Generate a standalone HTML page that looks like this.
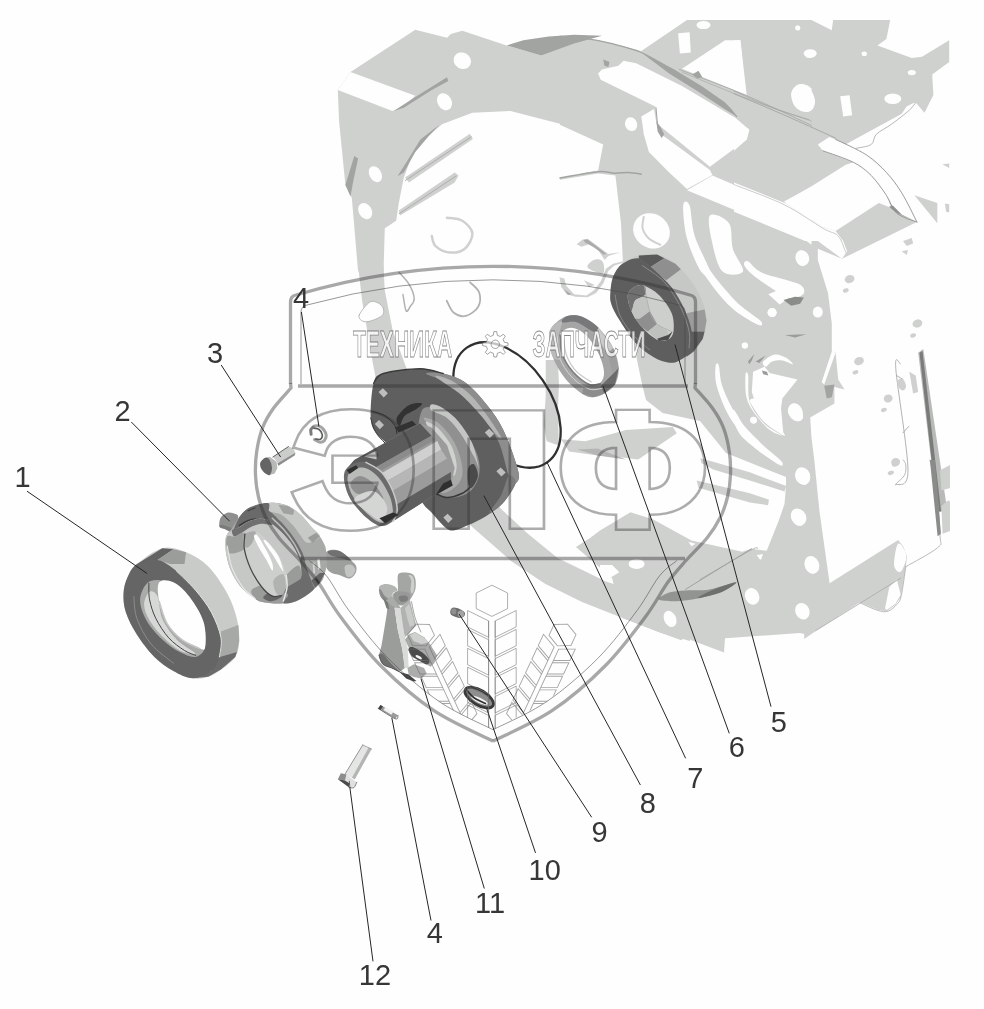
<!DOCTYPE html>
<html lang="ru"><head><meta charset="utf-8"><title>Схема</title>
<style>html,body{margin:0;padding:0;background:#fdfefd}svg{display:block;will-change:transform}text{font-family:"Liberation Sans",sans-serif}</style>
</head><body>
<svg width="984" height="1009" viewBox="0 0 984 1009">
<polygon points="415.3,29.7 350.5,72.1 337.8,89.9 339.1,121.6 345.4,185.1 351.8,197.8 358.1,271.5 383.5,271.5 384.8,228.3 396.2,220.7 398.8,202.9 403.8,177.5 411.5,157.2 421.6,142 442,124.2 472.4,112.7 510.5,111 571.5,126.7 571.5,35.2 541,55.6 506.7,45.4 462.3,30.7 450.8,34 447,37.8" fill="#cfd1cf"/>
<polygon points="560,35.8 585.4,38.3 610.8,42.9 641.3,51 687,20 811.5,20 811.5,271.5 560,271.5" fill="#cfd1cf"/>
<polygon points="734,20 811.5,20 831.8,30.2 833.1,20 890.2,20 886.4,39.1 877.5,45.4 911.8,58.1 922,56.8 949.2,40.3 949.2,61.9 932.2,74.6 933.4,94.9 924.5,112.7 915.7,102.6 906.8,106.4 901.7,114 845.8,144.5 866.1,154.7 886.4,172.4 901.7,192.8 911.8,210.5 916.9,222 842,258.8 817.8,248.7 817.8,271.5 734,271.5" fill="#cfd1cf"/>
<polygon points="914.4,195.3 937.3,202.9 937.3,223.3" fill="#cfd1cf"/>
<polygon points="942.3,164.3 949.2,163.5 949.2,167.9" fill="#cfd1cf"/>
<polygon points="944.9,203.4 949.2,204.2 949.2,212.6 946.1,211.8" fill="#cfd1cf"/>
<polygon points="903,241 911.8,238 913.1,243.6 906.8,246.1" fill="#cfd1cf"/>
<polygon points="901.7,251.2 908,249.9 906.8,255" fill="#cfd1cf"/>
<polygon points="358,265 362,300 372.5,361.6 380,400 405,450 440,495 472,526.7 511,561 545,583.7 582,602 622.6,618 660,632.4 690,641 700,610 650,596 606,581.6 557.6,558 527,533 500.6,508.5 460,460 425,405 407,369.8 392.8,331 384.7,290 383.5,265" fill="#cfd1cf"/>
<polygon points="623,262 628,300 637,360 642,384 646,400 662.6,413 700,421 726,453 786,477 786,486 784.5,504 778.9,520.3 766.7,550.8 751.4,548.8 742.3,551.8 691.5,540.6 652.8,519.3 630.5,512.2 600,530.5 590,538 575.9,547 612,578 622.6,618 660,632.4 681.3,640.2 686.4,635.8 691.5,640.2 724,652.4 725,638.2 800,633.1 804.2,634 804.2,639.1 816.9,630.2 860,602.3 877.8,609.9 886.7,611.2 895.6,604.8 900.7,597.2 905.8,566.7 907,556.5 903.3,546.4 898.2,540 829.6,583.2 819.4,510.8 814.3,460 811.5,437.8 810.2,417.5 834.4,403.5 834.4,387 844.5,389.6 838.2,379.4 835.6,352.7 831.8,351.5 831.8,323.5 828,293 817.8,260" fill="#cfd1cf"/>
<polygon points="350.5,72.1 337.8,89.9 392.4,111 403.8,106.4 415.3,95.7" fill="#fdfefd"/>
<ellipse cx="462.3" cy="60.7" rx="9" ry="8" fill="#fdfefd" transform="rotate(30 462.3 60.7)"/>
<ellipse cx="444.5" cy="101.8" rx="7" ry="9" fill="#fdfefd" transform="rotate(-30 444.5 101.8)"/>
<ellipse cx="375.4" cy="174.2" rx="6" ry="8.5" fill="#fdfefd" transform="rotate(-30 375.4 174.2)"/>
<ellipse cx="365.2" cy="211.1" rx="6.5" ry="8.5" fill="#fdfefd" transform="rotate(-30 365.2 211.1)"/>
<polygon points="598.1,73.4 601.9,69.5 618.4,65.7 623.5,60.7 636.2,63.2 682,86.1 735.3,117.8 749.3,129.8 746.7,139.4 709.9,166.8 657.8,124.2 655.3,106.4 600.7,79.7" fill="#fdfefd"/>
<polygon points="641.3,116.5 654,108.9 657.8,131.8 709.9,169.9 712.4,175 687,189 669.2,172.4 648.9,152.1 643.8,134.3" fill="#fdfefd"/>
<polygon points="712.4,175.5 811.5,217.7 811.5,244.8 803.9,239 687,190.2" fill="#fdfefd"/>
<polygon points="682,68.8 725.1,40.3 740.4,40.3 746.7,94.9" fill="#fdfefd"/>
<polygon points="558.7,124.2 603.2,144.5 598.1,170.4 558.7,178" fill="#fdfefd"/>
<polygon points="558.7,180.1 598.1,173.5 615.4,175.5 621,223.3 623.5,274.1 558.7,274.1" fill="#fdfefd"/>
<ellipse cx="631.1" cy="124.2" rx="6" ry="7" fill="#fdfefd" transform="rotate(-20 631.1 124.2)"/>
<polygon points="678.1,33.2 689.6,32.2 690.8,52.5 679.9,53.5" fill="#fdfefd"/>
<ellipse cx="703.5" cy="25.1" rx="7" ry="4" fill="#fdfefd"/>
<polygon points="791.2,93.7 798.8,84.8 807.7,85.5 811.5,88.6 811.5,108.9 801.4,111 793.7,103.8" fill="#fdfefd"/>
<polygon points="805.2,51.8 811.5,50 811.5,58.1 806.4,57.6" fill="#fdfefd"/>
<ellipse cx="797.8" cy="28.1" rx="2.5" ry="2.5" fill="#fdfefd"/>
<ellipse cx="651.5" cy="230.9" rx="19" ry="17" fill="#fdfefd" transform="rotate(35 651.5 230.9)"/>
<path d="M683.2 205.5C683.6 200 687.7 200.4 689.6 205.5C691.5 210.6 691.3 225 694.7 236C698.1 247 708.9 265.6 709.9 271.5C710.9 277.4 704.8 277 701 271.5C697.2 266 690 249.5 687 238.5C684 227.5 682.8 211 683.2 205.5Z" fill="#fdfefd"/>
<path d="M709.9 215.6C712.7 212.2 725.2 217.8 729 223.3C732.8 228.8 730.5 240.7 732.8 248.7C735.1 256.7 744.6 267.7 742.9 271.5C741.2 275.3 727.7 276.1 722.6 271.5C717.5 266.9 714.5 252.9 712.4 243.6C710.3 234.3 707.1 219 709.9 215.6Z" fill="#fdfefd"/>
<polygon points="811.5,186.4 783.6,201.7 811.5,213.1" fill="#fdfefd"/>
<ellipse cx="802.6" cy="258.1" rx="6.5" ry="7.5" fill="#fdfefd" transform="rotate(-20 802.6 258.1)"/>
<polygon points="734,40.3 740.4,40.3 745.4,93.7 734,89.9" fill="#fdfefd"/>
<polygon points="734,121.6 749.2,129.2 746.7,139.4 734,150.8" fill="#fdfefd"/>
<polygon points="817.8,144.5 829.3,136.9 835.6,139.4 845.8,144.5 866.1,154.7 886.4,172.4 901.7,192.8 911.8,210.5 916.9,222 896.6,213.1 886.4,195.3 871.2,175 853.4,162.3 822.9,150.8" fill="#fdfefd"/>
<polygon points="784.8,202.9 845.8,164.8 853.4,162.3 871.2,175 886.4,195.3 891.5,208 878.8,202.9 835.6,230.9 822.9,227.1" fill="#fdfefd"/>
<polygon points="734,182.6 784.8,202.9 822.9,227.1 835.6,230.9 843.2,241 847.1,251.2 842,258.8 817.8,241 805.1,241 734,211.8" fill="#fdfefd"/>
<polygon points="845.8,144.5 901.7,114 906.8,106.4 911.8,103.8 915.7,102.6 909.3,110.2 876.3,134.3 871.2,144.5 856,148.3" fill="#fdfefd"/>
<ellipse cx="810.2" cy="53.5" rx="6.5" ry="4.2" fill="#fdfefd"/>
<ellipse cx="864.3" cy="53.8" rx="2.7" ry="2.3" fill="#fdfefd"/>
<ellipse cx="911.8" cy="72.6" rx="4" ry="2.7" fill="#fdfefd"/>
<ellipse cx="892.8" cy="98.8" rx="8.5" ry="5.2" fill="#fdfefd"/>
<path d="M791.2 93.7C791.6 90.1 794.8 86.1 797.5 84.8C800.2 83.5 804.8 83.8 807.7 86.1C810.6 88.4 813.9 95 814.8 98.8C815.6 102.6 814.4 106.7 812.8 108.9C811.2 111.1 808.1 112.4 805.1 112C802.1 111.6 797.3 109.5 795 106.4C792.7 103.4 790.8 97.3 791.2 93.7Z" fill="#fdfefd"/>
<polygon points="840.2,96.2 849.6,95.2 852.1,115.3 843.2,116.5" fill="#fdfefd"/>
<ellipse cx="797.5" cy="27.6" rx="2.2" ry="2.2" fill="#fdfefd"/>
<ellipse cx="802.1" cy="258.1" rx="6.5" ry="8" fill="#fdfefd" transform="rotate(-15 802.1 258.1)"/>
<path d="M702.3 260C705.7 263 711.6 273.1 717.5 280.3C723.4 287.5 730.6 296.4 737.8 303.2C745 310 757.5 317.5 760.7 321C763.9 324.5 761.5 326 756.9 324C752.2 322 740.2 315.2 732.8 308.8C725.4 302.4 718.3 293.6 712.4 285.9C706.5 278.2 698.9 266.8 697.2 262.5C695.5 258.2 698.9 257 702.3 260Z" fill="#fdfefd"/>
<path d="M748 261.3C751 262.6 753.5 268.9 762 272.7C770.5 276.5 791.9 280.5 798.8 284.1C805.6 287.7 804.8 292 803.1 294.3C801.4 296.6 793 298.5 788.7 298.1C784.4 297.7 783.1 295.6 777.2 291.8C771.3 288 758.6 279.6 753.1 275.2C747.6 270.8 745.1 267.4 744.2 265.1C743.4 262.8 745 260 748 261.3Z" fill="#fdfefd"/>
<path d="M718.8 365.4C720 368.8 719.4 378.3 722.6 387C725.8 395.7 731.4 408.2 737.8 417.5C744.1 426.8 753.5 435.7 760.7 442.9C767.9 450.1 778 457.2 781 460.7C784 464.2 783.1 466.2 778.5 463.8C773.9 461.4 761.1 453.6 753.1 446C745.1 438.4 736.2 427.8 730.2 418C724.2 408.2 719.5 395.6 717 387C714.5 378.4 715.2 370.3 715.5 366.7C715.8 363.1 717.6 362 718.8 365.4Z" fill="#fdfefd"/>
<ellipse cx="772.1" cy="312.6" rx="4.5" ry="4.5" fill="#fdfefd"/>
<ellipse cx="745" cy="345.6" rx="3" ry="3" fill="#fdfefd"/>
<ellipse cx="753.6" cy="420.6" rx="3" ry="3" fill="#fdfefd"/>
<polygon points="831.8,351.5 835.6,352.7 824.2,384.5 821.7,382" fill="#fdfefd"/>
<polygon points="768.3,294.3 777.2,290.5 788.6,298.1 779.7,304.5" fill="#fdfefd"/>
<path d="M734 301.9C738.2 303.8 755.4 317.2 759.4 321C763.4 324.8 762.3 326.7 758.1 324.8C753.9 322.9 738 313.3 734 309.5C730 305.7 729.8 300 734 301.9Z" fill="#fdfefd"/>
<ellipse cx="772.1" cy="312.6" rx="4.5" ry="4.5" fill="#fdfefd"/>
<ellipse cx="817.8" cy="312.1" rx="5" ry="5.5" fill="#fdfefd"/>
<ellipse cx="744.7" cy="345.6" rx="3" ry="3" fill="#fdfefd"/>
<ellipse cx="753.8" cy="420.6" rx="3" ry="3" fill="#fdfefd"/>
<polygon points="753.1,371.8 764.5,366.7 769.6,373.1 797.5,379.4 782.3,398.5 781,408.6 783.5,435.3 759.4,415 751.8,392.1" fill="#fdfefd"/>
<path d="M763.2 361.6C764.7 359.6 770.9 355.1 774.7 354.5C778.5 353.9 783.1 356.2 786.1 357.8C789.1 359.4 793.5 363.8 792.9 364.2C792.3 364.6 785.8 360.8 782.3 360.4C778.8 360 774.9 360.6 772.1 361.6C769.4 362.7 767.3 366.7 765.8 366.7C764.3 366.7 761.7 363.6 763.2 361.6Z" fill="#fdfefd"/>
<path d="M745.4 375.6C745.4 380.1 744.4 393.6 748 402.3C751.6 411 761.3 422.2 767 427.7C772.7 433.2 782.7 435.9 782.3 435.3C781.9 434.7 769.9 429.4 764.5 423.9C759.1 418.4 752.5 410.4 749.8 402.3C747.1 394.2 748.9 380.1 748.2 375.6C747.5 371.2 745.4 371.2 745.4 375.6Z" fill="#fdfefd"/>
<path d="M734 409.9C736.5 411.8 741.6 424.3 749.2 432.8C756.8 441.3 775 455.5 779.7 460.7C784.4 465.9 783.1 467.4 777.2 463.8C771.3 460.2 751.4 446.2 744.2 439.1C737 432 735.7 426.2 734 421.3C732.3 416.4 731.5 408 734 409.9Z" fill="#fdfefd"/>
<path d="M787.9 409.9C788.2 407.3 791.6 403.7 793.7 403.5C795.8 403.3 799 406.3 800.6 408.6C802.2 410.9 803.4 415.4 803.1 417.5C802.8 419.6 800.7 421.1 798.8 421.3C796.9 421.5 793.7 420.7 791.9 418.8C790.1 416.9 787.6 412.4 787.9 409.9Z" fill="#fdfefd"/>
<ellipse cx="802.6" cy="476" rx="7.5" ry="8" fill="#fdfefd" transform="rotate(-20 802.6 476)"/>
<path d="M749.8 400C750.4 398.7 754.4 397.2 757.1 400C759.8 402.8 761.9 411.2 766.2 416.5C770.5 421.8 780 428.9 782.7 432C785.5 435.1 785.8 436.7 782.7 435.1C779.7 433.5 769.3 426.9 764.4 422.3C759.5 417.7 755.8 411.4 753.4 407.7C751 404 749.2 401.3 749.8 400Z" fill="#fdfefd"/>
<ellipse cx="753.4" cy="420.1" rx="3.3" ry="3.3" fill="#fdfefd"/>
<ellipse cx="795.5" cy="411.9" rx="7" ry="9" fill="#fdfefd" transform="rotate(-25 795.5 411.9)"/>
<ellipse cx="802.8" cy="475.9" rx="7" ry="9" fill="#fdfefd" transform="rotate(-25 802.8 475.9)"/>
<ellipse cx="798.2" cy="517.1" rx="7" ry="9" fill="#fdfefd" transform="rotate(-25 798.2 517.1)"/>
<ellipse cx="812" cy="564.6" rx="7" ry="9" fill="#fdfefd" transform="rotate(-25 812 564.6)"/>
<polygon points="757.1,555.5 762.6,554.6 760.7,559.5" fill="#fdfefd"/>
<ellipse cx="802.9" cy="476.5" rx="7" ry="8.5" fill="#fdfefd" transform="rotate(-25 802.9 476.5)"/>
<ellipse cx="799.1" cy="517.2" rx="7" ry="8.5" fill="#fdfefd" transform="rotate(-25 799.1 517.2)"/>
<ellipse cx="811.8" cy="565.4" rx="7" ry="8.5" fill="#fdfefd" transform="rotate(-25 811.8 565.4)"/>
<ellipse cx="752.1" cy="596.4" rx="7" ry="8.5" fill="#fdfefd" transform="rotate(-25 752.1 596.4)"/>
<ellipse cx="802.4" cy="611.2" rx="7" ry="8.5" fill="#fdfefd" transform="rotate(-25 802.4 611.2)"/>
<polygon points="757.9,555.3 763,554.5 759.7,559.6" fill="#fdfefd"/>
<path d="M898.2 543.8C899.6 542.8 901.9 545.4 903.3 547.7C904.6 550 906.7 553.8 906.3 557.8C905.9 561.8 902.7 570.3 900.7 571.8C898.7 573.3 895.3 569.7 894.4 566.7C893.5 563.7 894.5 557.8 895.1 554C895.7 550.2 896.8 544.8 898.2 543.8Z" fill="#fdfefd"/>
<polygon points="889.3,587 896.9,579.4 900.7,594.7 895.6,603.5 886.7,609.9 885,608.6" fill="#fdfefd"/>
<ellipse cx="636.6" cy="564" rx="8" ry="5" fill="#fdfefd"/>
<ellipse cx="670.1" cy="618.9" rx="6" ry="8.5" fill="#fdfefd" transform="rotate(-25 670.1 618.9)"/>
<ellipse cx="752.4" cy="596.5" rx="6" ry="8" fill="#fdfefd" transform="rotate(-25 752.4 596.5)"/>
<polygon points="600,565 612.2,565 619.3,572.2 606.1,580.3 600,575.2" fill="#fdfefd"/>
<polygon points="756.5,554.9 762.6,554.5 761,560" fill="#fdfefd"/>
<polygon points="688.4,541.7 695.5,543.7 691.5,546.3" fill="#fdfefd"/>
<path d="M359.3 314.9C360.7 311.7 366.8 303.2 370.5 301.7C374.2 300.2 379.7 303.5 381.7 305.7C383.7 307.9 384.6 312.3 382.7 314.9C380.8 317.4 373.9 320 370.5 321C367.1 322 364.3 322 362.4 321C360.5 320 357.9 318.1 359.3 314.9Z" fill="#fdfefd"/>
<polygon points="506.7,45.4 523.3,40.3 548.7,36.5 574.1,34.7 602,35.8 574.1,43.4 541,55.6" fill="#a2a4a2"/>
<polygon points="354.3,155.9 358.1,158.5 353,182.6 350.5,196.6 345.4,185.1" fill="#a2a4a2"/>
<polygon points="416.5,96.2 447,77.2 448.3,81 431.8,89.9 403.8,107.7 393.7,111" fill="#a2a4a2"/>
<polygon points="439.4,124.7 420.4,139.4 406.4,162.3 397.5,176.2 403.8,172.4 415.3,152.1 429.2,135.6" fill="#a2a4a2"/>
<polygon points="405.1,177.5 469.9,133.8 472.9,138.9 408.9,182.6" fill="#cfd1cf"/>
<polygon points="398.8,210.5 454.7,172.4 458.5,175.5 454.7,182.6 400,215.6" fill="#cfd1cf"/>
<path d="M405.1 180.6 L471.2 136.9" fill="none" stroke="#a2a4a2" stroke-width="0.8" stroke-linecap="round"/>
<path d="M399.3 213.6 L455.9 176.2" fill="none" stroke="#a2a4a2" stroke-width="0.8" stroke-linecap="round"/>
<path d="M447 217.7C449.6 218.2 458.1 218.1 462.3 220.7C466.5 223.3 472 228.7 472.4 233.4C472.8 238.1 468.6 245.5 464.8 248.7C461 251.9 454.5 252.9 449.6 252.5C444.7 252.1 438.6 248.8 435.6 246.1C432.6 243.3 432.4 237.7 431.8 236" fill="none" stroke="#cfd1cf" stroke-width="2.5" stroke-linecap="round"/>
<path d="M560 36.3C564.2 36.6 576.9 37.1 585.4 38.3C593.9 39.5 601.5 41 610.8 43.4C620.1 45.8 630.7 47.9 641.3 52.5C651.9 57.1 664.1 64.8 674.3 70.8C684.5 76.8 693.8 83.1 702.3 88.6C710.8 94.1 719.4 99.1 725.1 103.8C730.8 108.5 734.7 114.4 736.6 116.5" fill="none" stroke="#a2a4a2" stroke-width="1.2" stroke-linecap="round"/>
<polygon points="641.3,52.5 674.3,69.5 702.3,86.6 725.1,102.6 736.6,116.5 722.6,107.7 697.2,91.1 669.2,73.4" fill="#a2a4a2"/>
<path d="M643.8 216.9C643.6 218.8 641.8 224.7 642.6 228.3C643.5 231.9 645.9 235.8 648.9 238.5C651.9 241.2 658.5 243.8 660.4 244.8" fill="none" stroke="#cfd1cf" stroke-width="2" stroke-linecap="round"/>
<polygon points="603.2,59.4 609.5,61.9 608.3,67 604.5,65.7" fill="#a2a4a2"/>
<polygon points="692.1,74.6 698.5,70.8 702.3,77.2 697.2,78.4" fill="#a2a4a2"/>
<polygon points="656.5,121.6 660.4,126.7 664.2,134.3 661.6,138.1 657.8,131.8" fill="#a2a4a2"/>
<path d="M560 178C566.4 176.9 589 172.5 598.1 171.7C607.2 170.9 609.5 173.1 614.6 173.2C619.7 173.3 624.2 172.2 628.6 172.4C633 172.6 639.2 173.9 641.3 174.2" fill="none" stroke="#a2a4a2" stroke-width="1.5" stroke-linecap="round"/>
<path d="M679.4 69.5C690.6 73.9 724.7 86.4 746.7 95.7C768.7 105 800.7 120.5 811.5 125.4" fill="none" stroke="#a2a4a2" stroke-width="0.8" stroke-linecap="round"/>
<path d="M682 72.1C692.8 76.5 725.1 90.1 746.7 98.3C768.3 106.5 800.7 117.3 811.5 121.1" fill="none" stroke="#a2a4a2" stroke-width="0.6" stroke-linecap="round"/>
<path d="M656 107.7 L657.8 128" fill="none" stroke="#a2a4a2" stroke-width="1" stroke-linecap="round"/>
<path d="M734 93.7C742.5 97.3 767.9 107.9 784.8 115.3C801.7 122.7 827.1 134.3 835.6 138.1" fill="none" stroke="#a2a4a2" stroke-width="0.9" stroke-linecap="round"/>
<path d="M734 91.1C740.4 93.9 759.6 103 772.1 107.7C784.6 112.5 802.8 117.6 808.9 119.6" fill="none" stroke="#a2a4a2" stroke-width="0.7" stroke-linecap="round"/>
<path d="M822.9 150.8C828 152.7 845.3 158.2 853.4 162.3C861.5 166.4 865.7 170 871.2 175.5C876.7 181 882.2 189 886.4 195.3C890.6 201.6 891.5 208.7 896.6 213.1C901.7 217.5 913.5 220.5 916.9 222" fill="none" stroke="#888" stroke-width="0.8" stroke-linecap="round"/>
<path d="M835.6 139.4C840.7 141.9 857.6 149.2 866.1 154.7C874.6 160.2 880.5 166.1 886.4 172.4C892.3 178.8 896.6 184.5 901.7 192.8C906.8 201.1 914.4 217.1 916.9 222" fill="none" stroke="#888" stroke-width="0.8" stroke-linecap="round"/>
<path d="M915.7 102.6C914.6 103.9 913.3 106.6 909.3 110.2C905.3 113.8 897 120.2 891.5 124.2C886 128.2 879.7 130.9 876.3 134.3C872.9 137.7 874.6 142.2 871.2 144.5C867.8 146.8 858.5 147.7 856 148.3" fill="none" stroke="#999" stroke-width="0.7" stroke-linecap="round"/>
<polygon points="889,206.7 896.6,213.1 916.9,222 901.7,214.4 892.8,205.5" fill="#909290"/>
<path d="M734 184.6C742.5 188 770 197.7 784.8 205C799.6 212.3 814 223.1 822.9 228.3C831.8 233.5 834.4 232 838.2 236C842 240 844.5 249.8 845.8 252.5" fill="none" stroke="#aaa" stroke-width="0.6" stroke-linecap="round"/>
<polygon points="824.2,385.8 834.4,384.5 831.8,397.2 826.7,398.5" fill="#a2a4a2"/>
<polygon points="783.5,300.1 795,296.8 803.9,297.6 800.1,303.7 791.2,305.7" fill="#8a8c8a"/>
<polygon points="784.8,334.9 806.4,334.2 795,337.5" fill="#9a9c9a"/>
<polygon points="748,361.6 754.3,354 751.8,360.4 749.2,364.2" fill="#9a9c9a"/>
<polygon points="755.6,361.6 765.8,355.3 759.4,362.9" fill="#9a9c9a"/>
<polygon points="761.9,370.5 767,371.8 768.3,375.6 763.2,374.3" fill="#9a9c9a"/>
<polygon points="918.2,352.7 923.3,348.9 947.4,511.5 937.3,511.5" fill="#b8bab8"/>
<polygon points="919.5,352.7 922.5,351 941.1,511.5 937.3,511.5" fill="#7a7c7a"/>
<path d="M900.4 364.2C899.6 364.9 894.5 350.9 895.8 368.7C897.1 386.5 908.1 451.5 908 470.9C907.9 490.2 897.4 482.5 895.3 484.8" fill="none" stroke="#a8aaa8" stroke-width="0.9" stroke-linecap="round"/>
<path d="M896.6 375.6 L903 379.4" fill="none" stroke="#a8aaa8" stroke-width="0.9" stroke-linecap="round"/>
<path d="M903 432.8 L908.8 426.4" fill="none" stroke="#a8aaa8" stroke-width="0.9" stroke-linecap="round"/>
<ellipse cx="849.6" cy="279.1" rx="5" ry="4" fill="#cfd1cf" transform="rotate(-20 849.6 279.1)"/>
<ellipse cx="845.8" cy="290.5" rx="3" ry="2" fill="#cfd1cf" transform="rotate(-20 845.8 290.5)"/>
<ellipse cx="917.4" cy="323.5" rx="5" ry="4" fill="#cfd1cf" transform="rotate(-20 917.4 323.5)"/>
<ellipse cx="913.1" cy="335.5" rx="3" ry="2" fill="#cfd1cf" transform="rotate(-20 913.1 335.5)"/>
<ellipse cx="859" cy="361.1" rx="5" ry="4" fill="#cfd1cf" transform="rotate(-20 859 361.1)"/>
<ellipse cx="855.4" cy="372.3" rx="3" ry="2" fill="#cfd1cf" transform="rotate(-20 855.4 372.3)"/>
<ellipse cx="888.2" cy="398.5" rx="4.5" ry="4" fill="#cfd1cf" transform="rotate(-20 888.2 398.5)"/>
<ellipse cx="883.9" cy="409.9" rx="3" ry="2" fill="#cfd1cf" transform="rotate(-20 883.9 409.9)"/>
<ellipse cx="895.6" cy="462" rx="4.5" ry="4" fill="#cfd1cf" transform="rotate(-20 895.6 462)"/>
<ellipse cx="891" cy="472.9" rx="3" ry="2" fill="#cfd1cf" transform="rotate(-20 891 472.9)"/>
<ellipse cx="901.7" cy="384.5" rx="4" ry="6" fill="#cfd1cf" transform="rotate(-20 901.7 384.5)"/>
<polygon points="909.3,371.8 915.7,375.6 918.2,392.1 913.1,393.4" fill="#cfd1cf"/>
<polygon points="941.1,481 948.7,476 948.7,486.1 943.6,487.4" fill="#cfd1cf"/>
<polygon points="943.6,503.9 948.7,500.1 948.7,511.5 944.9,511.5" fill="#cfd1cf"/>
<polygon points="700.4,458.2 709.5,460.7 749.8,472.3 786.3,486 784.5,491.5 749.8,480.5 713.2,469.5 701.3,463.1" fill="#cfd1cf"/>
<polygon points="696.7,480.5 749.8,493.3 769,499.7 768,505.2 749.8,502.4 698.5,487.8" fill="#cfd1cf"/>
<polygon points="561,439.3 585.4,441.3 626,430.1 672.8,427.1 676.8,433.2 638.2,459.6 622,457.6 597.6,455.5 569.1,451.5" fill="#cfd1cf"/>
<polygon points="577.2,449.4 597.6,448.4 626,459.6 597.6,455.5" fill="#b4b6b4"/>
<polygon points="545.7,360 557.9,360 558.9,384.4 557.9,410.8 558.9,445.4 546.7,441.3 543.7,425 545.7,396.6" fill="#cfd1cf"/>
<path d="M860.1 602.8C863 604.1 873.1 609 877.8 610.4C882.4 611.8 884.8 612.2 888 611.2C891.2 610.2 894.7 606.8 896.9 604.3C899.1 601.8 899.7 602.2 901.2 595.9C902.7 589.6 905 571.6 905.8 566.7" fill="none" stroke="#a8aaa8" stroke-width="0.8" stroke-linecap="round"/>
<path d="M905.8 566.7C911.1 563.5 931.9 552.8 937.6 547.7C943.3 542.6 940.3 545.7 940.1 536.2C939.9 526.7 938 503.2 936.3 490.5C934.6 477.8 931 465.1 929.9 460" fill="none" stroke="#a8aaa8" stroke-width="0.8" stroke-linecap="round"/>
<polygon points="929.9,460 935,460 940.9,533.7 937.6,536.2" fill="#8a8c8a"/>
<polygon points="940.1,470.2 950,465.1 950,487.9 941.4,490.5" fill="#cfd1cf"/>
<polygon points="941.4,505.7 950,500.7 950,531.1 942.6,533.7" fill="#cfd1cf"/>
<path d="M895.6 484.1C897.1 482.6 902.8 478.4 904.5 475.2C906.2 472 906 467.6 905.8 465.1C905.6 462.6 903.7 460.9 903.3 460" fill="none" stroke="#a8aaa8" stroke-width="0.8" stroke-linecap="round"/>
<ellipse cx="895.6" cy="463.8" rx="4" ry="2.5" fill="#cfd1cf" transform="rotate(-20 895.6 463.8)"/>
<ellipse cx="890.5" cy="472.7" rx="3" ry="1.5" fill="#cfd1cf" transform="rotate(-20 890.5 472.7)"/>
<path d="M700 579.4C708.5 574.5 741.3 555.3 750.8 550.2C760.3 545.1 756.1 549.1 757.2 548.9" fill="none" stroke="#a8aaa8" stroke-width="0.8" stroke-linecap="round"/>
<path d="M815.6 630.7 L900.7 578.1" fill="none" stroke="#a8aaa8" stroke-width="0.8" stroke-linecap="round"/>
<path d="M658.9 599.6C657.5 598.1 664.7 594 669.1 592.5C673.5 591 678.6 590.9 685.4 590.4C692.2 589.9 701.3 590.8 709.8 589.4C718.3 588 734.2 581.9 736.2 582.3C738.2 582.6 728.4 588.8 722 591.5C715.6 594.2 705.1 597 697.6 598.6C690.1 600.2 683.7 601 677.2 601.2C670.8 601.4 660.2 601.1 658.9 599.6Z" fill="#929492"/>
<path d="M697.6 598C696.2 597.6 707.4 592 713.8 589.4C720.2 586.8 734.8 581.9 736.2 582.3C737.6 582.7 728.4 589.3 722 591.9C715.6 594.5 699 598.4 697.6 598Z" fill="#6e706e"/>
<path d="M685.4 589.4 L751.4 548.8" fill="none" stroke="#9a9c9a" stroke-width="0.9" stroke-linecap="round"/>
<path d="M359.3 314.9C360.7 311.7 366.8 303.2 370.5 301.7C374.2 300.2 379.7 303.5 381.7 305.7C383.7 307.9 384.6 312.3 382.7 314.9C380.8 317.4 373.9 320 370.5 321C367.1 322 364.3 322 362.4 321C360.5 320 357.9 318.1 359.3 314.9Z" fill="none" stroke="#a8aaa8" stroke-width="0.8" stroke-linecap="round"/>
<path d="M398.9 272.2C400.6 274.2 406.6 280 409.1 284.4C411.7 288.8 414 294.9 414.2 298.6C414.4 302.3 411.5 304.7 410.1 306.7C408.8 308.7 407.3 312.8 406.1 310.8C404.9 308.8 403.5 297.3 403 294.6" fill="none" stroke="#b0b2b0" stroke-width="1.5" stroke-linecap="round"/>
<path d="M470.1 282.4C471.6 284.1 477.9 288.4 479.2 292.5C480.5 296.6 480.4 302.8 478.2 306.7C476 310.6 470.1 314.9 466 315.9C461.9 316.9 457 315.3 453.8 312.8C450.6 310.3 447.9 302.7 446.7 300.7" fill="none" stroke="#b0b2b0" stroke-width="1.8" stroke-linecap="round"/>
<polygon points="576.6,244.3 582.7,239.4 587.6,238.8 598.5,246.7 608.3,254 620.5,252.2 608.3,255.9 604.6,260.1 598.5,250.4 588.8,244.3 581.5,246.7" fill="#cfd1cf"/>
<polygon points="583.3,240 587.6,239.4 597.3,246.7 606.5,254 603.4,254.6 593.7,247 585.1,242.4" fill="#a9aba9"/>
<path d="M587.6 267.4C586.2 265.2 591.5 261.3 593.7 260.1C595.9 258.9 599.3 259.1 601 260.1C602.7 261.1 603.8 264 604 266.2C604.2 268.4 604.9 273.3 602.2 273.5C599.5 273.7 589 269.6 587.6 267.4Z" fill="#cfd1cf"/>
<polygon points="559.5,277.2 564.4,278.4 566.2,285.7 574.1,294.3 586.3,295.5 593.7,290.6 601,280.9 605.9,268.7 613.2,263.8 627.8,260.1 625.4,262 614.4,265.6 608.3,271.1 603.4,283.3 596.1,293 587.6,297.3 575.4,296.7 566.8,294.3 561.3,287" fill="#cfd1cf"/>
<polygon points="583.9,280.2 594.9,285.1 588.8,287" fill="#cfd1cf"/>
<polygon points="563.8,289.4 571.7,294.3 568,294.9" fill="#a9aba9"/>
<path d="M123.5 593.4C123.8 587.6 125.2 582.5 127.4 577.6C129.7 572.7 131.2 569 137 564.1C142.8 559.2 154.1 550.2 162.3 548.2C170.5 546.2 178.4 549.2 186.1 552.2C193.8 555.2 201.4 559.6 208.3 566.5C215.2 573.4 222.5 584.7 227.3 593.4C232.1 602.1 234.9 610.9 236.9 618.8C238.9 626.7 239.5 634.6 239.2 641C238.9 647.4 238.3 652.1 235.3 656.9C232.3 661.6 225.5 666.2 221 669.5C216.5 672.8 213.1 675.2 208.3 676.7C203.6 678.2 198.3 679.2 192.5 678.3C186.7 677.4 179.8 674.7 173.4 671.1C167.1 667.5 160.5 663 154.4 656.9C148.3 650.8 141.8 642.1 137 634.7C132.2 627.3 128.2 619.4 125.9 612.5C123.7 605.6 123.2 599.2 123.5 593.4Z" fill="#c9cbc9"/>
<polygon points="137,564.1 162.3,548.2 173.4,549.3 157.6,560.1" fill="#636263"/>
<polygon points="157.6,560.1 173.4,549.3 186.1,552.2 184.5,564.1 170.3,564.1" fill="#9b9d9b"/>
<polygon points="221,631.5 238.4,625.1 239.2,641 236.9,652.1 219.4,656.9" fill="#a7a9a7"/>
<polygon points="219.4,656.9 236.9,652.1 235.3,656.9 221,669.5 208.3,676.7 192.5,678.3 211.5,671.1" fill="#6c6b6c"/>
<path d="M123.5 593.4C123.8 587.6 125.2 582.5 127.4 577.6C129.7 572.7 132 567 137 564.1C142 561.2 151 558.9 157.6 560.1C164.2 561.3 170.3 566.2 176.6 571.2C182.9 576.2 189.8 583.4 195.6 590.3C201.4 597.2 207.3 604.6 211.5 612.5C215.7 620.4 219.7 630.4 221 637.8C222.3 645.2 221 651.3 219.4 656.9C217.8 662.5 216 667.5 211.5 671.1C207 674.7 198.8 678.3 192.5 678.3C186.2 678.3 179.8 674.7 173.4 671.1C167.1 667.5 160.5 663 154.4 656.9C148.3 650.8 141.8 642.1 137 634.7C132.2 627.3 128.2 619.4 125.9 612.5C123.7 605.6 123.2 599.2 123.5 593.4Z" fill="#666566"/>
<path d="M176.6 571.2C179.8 574.4 189.8 583.4 195.6 590.3C201.4 597.2 207.3 604.6 211.5 612.5C215.7 620.4 219.7 630.4 221 637.8C222.3 645.2 219.7 653.7 219.4 656.9" fill="none" stroke="#e4e6e4" stroke-width="1.0" stroke-linecap="round"/>
<path d="M140.1 599.8C140.2 593.6 143.9 586.3 147.3 583.1C150.7 579.9 155.8 579.7 160.7 580.4C165.6 581.1 171.3 583.1 176.6 587.1C181.9 591.1 188 598.2 192.5 604.5C197 610.8 201.5 618 203.6 625.1C205.7 632.2 206.4 642 205.1 647.3C203.8 652.6 199.8 656.1 195.6 656.9C191.4 657.7 185.4 655 179.8 652.1C174.2 649.2 167.9 644.7 162.3 639.4C156.8 634.1 150.2 627 146.5 620.4C142.8 613.8 140 606 140.1 599.8Z" fill="#a9aba9"/>
<path d="M144.1 604.5C144.1 599.7 147.3 593.1 149.6 591.8C151.8 590.5 155.5 592.1 157.6 596.6C159.7 601.1 159.1 611.7 162.3 618.8C165.5 625.9 171.1 633.6 176.6 639.4C182.1 645.2 195.1 651.9 195.6 653.7C196.1 655.6 185.1 653.1 179.8 650.5C174.5 647.9 168.9 642.8 163.9 637.8C158.9 632.8 152.9 625.9 149.6 620.4C146.3 614.9 144.1 609.3 144.1 604.5Z" fill="#d7d9d7"/>
<path d="M148.9 583.1C149 585.9 148.4 593.8 149.6 599.8C150.8 605.8 152.8 612.5 156 618.8C159.2 625.1 163.9 632.5 168.7 637.8C173.4 643.1 180 647.6 184.5 650.5C189 653.4 193.8 654.5 195.6 655.3" fill="none" stroke="#444" stroke-width="1.0" stroke-linecap="round"/>
<path d="M133.8 596.6C134.3 600.3 134.1 610.9 137 618.8C139.9 626.7 145.1 636.8 151.2 644.2C157.3 651.6 169.7 660 173.4 663.2" fill="none" stroke="#8a8c8a" stroke-width="1.0" stroke-linecap="round"/>
<path d="M159.2 582.3C161.6 579.1 168.4 579.9 173.4 582.3C178.4 584.7 184.3 590 189.3 596.6C194.3 603.2 201 613.5 203.6 622C206.2 630.5 205.9 642.9 205.1 647.3C204.3 651.6 202.8 649.4 198.8 648.1C194.9 646.8 186.7 643.5 181.4 639.4C176.1 635.3 170.8 629.9 167.1 623.6C163.4 617.3 160.5 608.3 159.2 601.4C157.9 594.5 156.8 585.5 159.2 582.3Z" fill="#fdfefd"/>
<path d="M159.2 601.4C160.5 605.1 163.4 617.3 167.1 623.6C170.8 629.9 176.1 635.3 181.4 639.4C186.7 643.5 195.9 646.6 198.8 648.1" fill="none" stroke="#c4c6c4" stroke-width="1.5" stroke-linecap="round"/>
<path d="M325.3 554.1C326 551.2 327.8 550.5 330.2 550C332.6 549.5 336.5 549.5 340 551.3C343.5 553.1 348.6 558.1 351.3 560.6C354 563.1 355.5 564.1 356.2 566.3C356.9 568.5 356.5 571.6 355.4 573.6C354.3 575.6 352.3 578.2 349.7 578.5C347.1 578.8 343 576.1 340 575.2C337 574.3 334.1 574.5 331.8 573.1C329.5 571.8 327.2 570.3 326.1 567.1C325 563.9 324.6 557 325.3 554.1Z" fill="#9d9f9d"/>
<path d="M328.6 550.9C330.2 550.3 336.2 549.7 340 551.3C343.8 552.9 351 559.5 351.3 560.6C351.6 561.8 345.1 559.2 341.6 558.2C338.1 557.2 332.4 556.1 330.2 554.9C328 553.7 327 551.5 328.6 550.9Z" fill="#707170"/>
<path d="M344.8 566.3C345.6 564.4 349.5 564.2 351.3 564.7C353.1 565.2 355.2 567.7 355.4 569.6C355.5 571.5 353.7 575 352.2 576.1C350.7 577.2 347.7 577.7 346.5 576.1C345.3 574.5 344 568.2 344.8 566.3Z" fill="#c3c5c3"/>
<path d="M219.3 523C219.5 521.3 219.8 518.7 221.1 517C222.4 515.3 225.2 513.3 227.2 512.7C229.2 512.1 231.5 512.7 233.3 513.3C235.1 513.9 237.8 514.1 238.2 516.3C238.6 518.5 236.9 524.2 235.7 526.7C234.5 529.2 232.7 531.2 230.9 531.6C229.1 532 226.6 529.8 224.8 529.1C223 528.4 220.8 528.3 219.9 527.3C219 526.3 219.1 524.7 219.3 523Z" fill="#8e908e"/>
<path d="M219.9 527.3C220.6 528 223 528.4 224.8 529.1C226.6 529.8 229.5 531.6 230.9 531.6C232.3 531.6 234.1 530 233.3 529.1C232.5 528.2 228.1 526.8 226 526.1C223.9 525.4 221.5 524.7 220.5 524.9C219.5 525.1 219.2 526.6 219.9 527.3Z" fill="#7a7c7a"/>
<path d="M225.4 543.8C225.4 540.3 225.5 537.9 226.6 535.2C227.7 532.6 230 530.9 232.1 527.9C234.2 524.9 236.8 520.2 239.4 517C242 513.8 244.4 510.5 247.9 508.4C251.4 506.2 255.4 505 260.1 504.1C264.8 503.2 271.3 502.6 276 502.9C280.7 503.2 284.1 504.1 288.2 506C292.3 507.9 296.5 511.1 300.4 514.5C304.2 518 308.1 523 311.3 526.7C314.6 530.4 317.8 533.6 319.9 536.5C322 539.4 323.1 541.6 324.1 543.8C325.1 546 325.6 546.6 326 549.9C326.4 553.1 326.8 559.4 326.6 563.3C326.4 567.1 325.5 570.1 324.8 573C324.1 575.9 323.9 577.9 322.3 580.4C320.7 582.9 317.9 585.1 315 587.7C312.1 590.3 308.9 593.8 305.2 596.2C301.5 598.6 297.5 601.1 293 602.3C288.5 603.5 283.3 603.5 278.4 603.5C273.5 603.5 268.3 603.5 263.8 602.3C259.3 601.1 255.7 599.1 251.6 596.2C247.5 593.4 242.8 589.5 239.4 585.2C236 580.9 233 575.5 230.9 570.6C228.8 565.7 227.5 560.5 226.6 556C225.7 551.5 225.4 547.3 225.4 543.8Z" fill="#a8aaa8"/>
<path d="M268.7 503.5C269.9 502.2 272.8 502.5 276 502.9C279.2 503.3 284.1 504.1 288.2 506C292.3 507.9 296.5 511.1 300.4 514.5C304.2 518 308.1 523 311.3 526.7C314.6 530.4 320.5 533.8 319.9 536.5C319.3 539.2 310.9 543 307.7 542.8C304.4 542.6 302.8 538.1 300.4 535.2C297.9 532.3 296.2 529 293 525.5C289.8 522 284.9 516.9 280.9 514.5C276.8 512.1 270.7 512.7 268.7 510.9C266.7 509.1 267.5 504.8 268.7 503.5Z" fill="#c7c9c7"/>
<polygon points="278.4,504.8 288.2,506 294.3,510.2 293,515.1 283.3,513.3" fill="#a0a2a0"/>
<polygon points="307.7,537.7 316.2,532.8 319.9,536.5 312.6,542.8" fill="#9a9c9a"/>
<path d="M233.3 531.6C233.3 529.9 237 520.9 239.4 517C241.8 513.1 244.4 510.5 247.9 508.4C251.4 506.2 256.6 504.9 260.1 504.1C263.6 503.3 267.3 502.4 268.7 503.5C270.1 504.6 268.9 508.2 268.7 510.9C268.5 513.5 268.8 518.1 267.4 519.4C266 520.7 263.2 518.5 260.1 518.8C257.1 519.1 252.6 519.8 249.1 521.2C245.6 522.6 242 525.6 239.4 527.3C236.8 529 233.3 533.3 233.3 531.6Z" fill="#6b6a6b"/>
<path d="M239.4 525.5C240.6 524.8 244.1 522.3 246.7 521.2C249.3 520.1 253.8 519.2 255.2 518.8" fill="none" stroke="#3a3a3a" stroke-width="1.3" stroke-linecap="round"/>
<path d="M247.9 510.9 L255.2 507.8" fill="none" stroke="#3a3a3a" stroke-width="1.0" stroke-linecap="round"/>
<path d="M268.7 510.9C270.7 511 276.8 517.5 280.9 521.8C284.9 526.1 289.4 531.2 293 536.5C296.6 541.8 300.4 547.8 302.8 553.5C305.2 559.2 306.1 566.1 307.7 570.6C309.3 575.1 312.2 577.5 312.6 580.4C313 583.2 312.1 587.7 310.1 587.7C308.1 587.7 302 584.5 300.4 580.4C298.8 576.3 301.6 569 300.4 563.3C299.2 557.6 296.2 551.5 293 546.2C289.8 540.9 284.9 535.8 280.9 531.6C276.8 527.4 270.7 524.7 268.7 521.2C266.7 517.8 266.7 510.8 268.7 510.9Z" fill="#6f6e6f"/>
<path d="M272.3 518.2C274.1 520 279.6 524.8 283.3 529.1C287 533.4 291.5 539.3 294.3 543.8C297.1 548.3 299.4 554 300.4 556" fill="none" stroke="#b9bbb9" stroke-width="1.6" stroke-linecap="round"/>
<path d="M225.4 543.8C225.4 540.3 225.5 537.4 226.6 535.2C227.7 533 230 531.7 232.1 530.4C234.2 529.1 236.6 528.8 239.4 527.3C242.2 525.8 245.6 522.6 249.1 521.2C252.6 519.8 256.8 518.8 260.1 518.8C263.4 518.8 265.2 519.1 268.7 521.2C272.2 523.3 276.8 527.4 280.9 531.6C284.9 535.8 289.8 540.9 293 546.2C296.2 551.5 299.2 557.6 300.4 563.3C301.6 569 302 575.5 300.4 580.4C298.8 585.3 293.5 588.9 290.6 592.6C287.8 596.4 285.3 601.1 283.3 602.9C281.3 604.7 281.6 603.6 278.4 603.5C275.1 603.4 268.3 603.5 263.8 602.3C259.3 601.1 255.7 599.1 251.6 596.2C247.5 593.4 242.8 589.5 239.4 585.2C236 580.9 233 575.5 230.9 570.6C228.8 565.7 227.5 560.5 226.6 556C225.7 551.5 225.4 547.3 225.4 543.8Z" fill="#c6c8c6"/>
<path d="M232.1 530.4C232.9 528.9 236.6 528.8 239.4 527.3C242.2 525.8 245.6 522.6 249.1 521.2C252.6 519.8 256.8 518.8 260.1 518.8C263.4 518.8 266.7 520.2 268.7 521.2C270.7 522.2 273.5 524.5 272.3 524.9C271.1 525.3 264.9 523.3 261.3 523.7C257.7 524.1 253.7 525.8 250.4 527.3C247.2 528.8 244.5 531.3 241.8 532.8C239.2 534.3 236.1 536.9 234.5 536.5C232.9 536.1 231.3 531.9 232.1 530.4Z" fill="#6f706f"/>
<path d="M227.2 536.5C228.5 534.7 232.1 537.1 234.5 536.5C236.9 535.9 240.2 533 241.8 532.8C243.4 532.6 243.9 532.6 244.3 535.2C244.7 537.9 246.5 545.7 244.3 548.7C242.1 551.8 233.9 553.7 230.9 553.5C227.9 553.3 227.2 550.2 226.6 547.4C226 544.6 225.9 538.3 227.2 536.5Z" fill="#9d9f9d"/>
<path d="M251.6 590.1C253.4 587.5 261.7 584.8 266.2 582.8C270.7 580.8 275.5 578.3 278.4 577.9C281.2 577.5 281.7 581.2 283.3 580.4C284.9 579.6 285.6 575.5 288.2 573C290.8 570.5 297.1 564.5 299.1 565.7C301.1 566.9 301.8 575.9 300.4 580.4C299 584.9 293.5 588.9 290.6 592.6C287.8 596.4 287.8 601.3 283.3 602.9C278.8 604.5 268.5 603 263.8 602.3C259.1 601.6 257.2 600.7 255.2 598.7C253.2 596.7 249.8 592.8 251.6 590.1Z" fill="#9a9c9a"/>
<path d="M263.8 596.2C265.8 594.2 275.3 587.7 278.4 587.7C281.4 587.7 283.1 594 282.1 596.2C281.1 598.4 275 600.5 272.3 601.1C269.6 601.7 267.6 600.7 266.2 599.9C264.8 599.1 261.8 598.2 263.8 596.2Z" fill="#666566"/>
<path d="M283.3 590.1C285.3 587.5 296.3 582.4 300.4 579.1C304.5 575.9 305.7 570.4 307.7 570.6C309.7 570.8 311.4 577.5 312.6 580.4C313.8 583.2 316.2 585.1 315 587.7C313.8 590.3 308.9 593.8 305.2 596.2C301.5 598.6 296.6 601.2 293 602.3C289.4 603.4 284.1 604.1 283.3 602.9C282.5 601.7 288.2 597.1 288.2 595C288.2 592.9 281.3 592.8 283.3 590.1Z" fill="#6d6c6d"/>
<path d="M227.2 546.2C228 549.9 229.5 561.3 232.1 568.2C234.7 575.1 239.2 582.6 243 587.7C246.8 592.8 253.2 596.9 255.2 598.7" fill="none" stroke="#e6e8e6" stroke-width="1.2" stroke-linecap="round"/>
<path d="M244.3 535.2C245.6 532.8 249 531.8 251.6 531.6C254.2 531.4 256.9 531.8 260.1 534C263.4 536.2 267.6 540.7 271.1 545C274.6 549.3 278.4 554.5 280.9 559.6C283.4 564.7 285.5 570.8 286.3 575.5C287.1 580.2 286.6 584.5 285.7 587.7C284.8 591 282.9 593.6 280.9 595C278.9 596.4 276.4 597 273.5 596.2C270.6 595.4 267.1 593.2 263.8 590.1C260.6 587 256.9 582.8 254 577.9C251.2 573 248.4 566.2 246.7 560.9C245 555.6 244.1 550.5 243.7 546.2C243.3 541.9 243 537.6 244.3 535.2Z" fill="#cdcfcd"/>
<path d="M244.3 535.2C245.3 532.6 249.7 532 251.6 531.6C253.5 531.2 255.9 531 255.9 533C255.9 535 253.3 541.4 251.6 543.8C249.9 546.2 246.7 548.8 245.5 547.4C244.3 546 243.3 537.8 244.3 535.2Z" fill="#a9aba9"/>
<path d="M254 536.5C253.8 534.6 255.7 533.7 257.7 535.9C259.7 538.1 263.8 545.3 266.2 549.9C268.6 554.5 271.3 559.8 272.3 563.3C273.3 566.8 273.3 571.2 272.3 570.6C271.3 570 268.4 563.5 266.2 559.6C264 555.7 260.9 551.2 258.9 547.4C256.9 543.5 254.2 538.4 254 536.5Z" fill="#fdfefd"/>
<path d="M263.8 541.3C262.8 539 265 539.5 267.4 542C269.8 544.5 275.8 551.2 278.4 556C281 560.8 282.9 568.6 283.3 570.6C283.7 572.6 282.5 570.6 280.9 568.2C279.3 565.8 276.4 560.5 273.5 556C270.6 551.5 264.8 543.6 263.8 541.3Z" fill="#fdfefd"/>
<path d="M273.5 580.4C274.7 577.3 281.3 573.1 283.3 574.3C285.3 575.5 286.1 584.2 285.7 587.7C285.3 591.2 282.5 594.2 280.9 595C279.3 595.8 277.2 595 276 592.6C274.8 590.2 272.3 583.5 273.5 580.4Z" fill="#b1b3b1"/>
<path d="M244.9 534C244.8 536.5 243.4 543 244.3 548.7C245.2 554.4 247.6 561.9 250.4 568.2C253.2 574.5 257.7 581.8 261.3 586.5C264.9 591.2 269 594.7 272.3 596.2C275.6 597.7 279.5 595.7 280.9 595.6" fill="none" stroke="#484848" stroke-width="1.3" stroke-linecap="round"/>
<path d="M286.3 575.5C286.4 577.5 287.5 583.4 287 587.7C286.5 592 283.9 598.9 283.3 601.1" fill="none" stroke="#e8eae8" stroke-width="1.4" stroke-linecap="round"/>
<path d="M305.2 558.4C306 556 310.4 557 312.6 556C314.9 555 317.1 553.5 318.7 552.3C320.3 551.1 321.2 548.7 322.3 548.7C323.4 548.7 324.7 549.9 325.4 552.3C326.1 554.7 326.7 559.8 326.6 563.3C326.5 566.8 325.9 569.8 324.8 573C323.7 576.2 321.5 580.3 319.9 582.8C318.3 585.2 316.4 588.1 315 587.7C313.6 587.3 312.5 583.2 311.3 580.4C310.1 577.5 308.7 574.3 307.7 570.6C306.7 566.9 304.4 560.8 305.2 558.4Z" fill="#a7a9a7"/>
<polygon points="311.3,580.4 319.9,573 324.8,573 319.9,582.8 315,587.7" fill="#666566"/>
<polygon points="317.2,559.6 319.6,558.4 320.6,568.2 318.2,569.4" fill="#eceeec"/>
<polygon points="312.6,563.3 314.4,562.3 315.2,573 313.3,574" fill="#d0d2d0"/>
<path d="M316.2 579.1 L318.7 582.8" fill="none" stroke="#333" stroke-width="1.6" stroke-linecap="round"/>
<ellipse cx="507" cy="405" rx="70" ry="43.5" fill="none" stroke="#303030" stroke-width="2.3" transform="rotate(55 507 405)"/>
<path d="M370.7 417.9C370.2 409.5 371.5 390.6 373.6 383.2C375.7 375.8 375.6 375.9 383.3 373.5C391 371.1 410 368.7 420 368.7C430 368.7 435.4 371.1 443.1 373.5C450.8 375.9 458.6 377.4 466.3 383.2C474 389 483.1 399.9 489.5 408.3C495.9 416.7 500.1 422.8 504.9 433.4C509.7 444 516.6 463.6 518.4 472C520.2 480.4 518.1 478.5 515.5 483.6C512.9 488.8 508 497.4 503 502.9C498 508.4 491.4 512.7 485.6 516.4C479.8 520.1 473.4 522.8 468.2 525.1C463 527.4 458.4 529.8 454.7 530.3C451 530.8 449.9 531 446 528C442.1 525 435.8 517.3 431.5 512.5C427.2 507.7 426.4 509.3 420 499C413.6 488.7 400.1 461.7 392.9 450.8C385.6 439.9 380.2 438.9 376.5 433.4C372.8 427.9 371.2 426.3 370.7 417.9Z" fill="#605f60"/>
<path d="M425.8 373.5C425.8 372.2 436.4 371.9 443.1 373.5C449.9 375.1 458.6 377.4 466.3 383.2C474 389 483.1 399.9 489.5 408.3C495.9 416.7 500.1 422.8 504.9 433.4C509.7 444 516.6 463.6 518.4 472C520.2 480.4 517.1 483 515.5 483.6C513.9 484.2 511.5 482.7 508.8 475.9C506.1 469.1 503.3 452.7 499.1 443C494.9 433.3 489.8 425.9 483.7 417.9C477.6 409.9 469.2 400.9 462.4 394.8C455.6 388.7 449.2 384.8 443.1 381.2C437 377.6 425.8 374.8 425.8 373.5Z" fill="#8c8d8c"/>
<path d="M435.4 376.4C434.1 374.3 445.1 377.2 450.9 380.3C456.7 383.4 464.1 388.9 470.2 394.8C476.3 400.8 482.4 408.9 487.5 416C492.6 423.1 499.8 434.3 501.1 437.2C502.4 440.1 499.2 437.6 495.3 433.4C491.4 429.2 484 418.9 477.9 412.1C471.8 405.3 465.7 398.8 458.6 392.8C451.5 386.9 436.7 378.5 435.4 376.4Z" fill="#b4b6b4"/>
<path d="M508.8 475.9C511.2 474 516.5 479.1 515.5 483.6C514.5 488.1 507.3 498.1 503 502.9C498.7 507.7 489.8 513.8 489.5 512.5C489.2 511.2 497.9 501.3 501.1 495.2C504.3 489.1 506.4 477.8 508.8 475.9Z" fill="#7a7b7a"/>
<path d="M373.6 383.2C375.2 381.6 375.6 375.9 383.3 373.5C391 371.1 410 368.7 420 368.7C430 368.7 439.2 372.7 443.1 373.5" fill="none" stroke="#3b3b3b" stroke-width="1.4" stroke-linecap="round"/>
<path d="M370.7 417.9C371.7 420.5 372.8 427.9 376.5 433.4C380.2 438.9 390.2 447.9 392.9 450.8" fill="none" stroke="#3b3b3b" stroke-width="1.0" stroke-linecap="round"/>
<path d="M371.7 411.2C373.9 412 381.3 413.6 385.2 416C389.1 418.4 393 422.8 394.9 425.7C396.8 428.6 396.5 432.1 396.8 433.4" fill="none" stroke="#2e2e2e" stroke-width="1.0" stroke-linecap="round"/>
<path d="M421.9 410.6C424.8 405.1 430.6 407.4 435.4 408.3C440.2 409.2 445.8 411.8 450.9 416C456 420.2 461.8 426.6 466.3 433.4C470.8 440.1 475.8 449.4 477.9 456.5C480 463.6 480.2 470.1 478.9 475.9C477.6 481.7 474.2 487.7 470.2 491.3C466.2 494.9 459.8 496.9 454.7 497.5C449.6 498.1 444.1 498.8 439.3 495.2C434.5 491.6 429.4 484.9 425.8 475.9C422.2 466.9 418.6 452 418 441.1C417.4 430.2 419 416.1 421.9 410.6Z" fill="#8f908f"/>
<path d="M431.5 404.4C433.4 404 438.6 405.4 443.1 408.3C447.6 411.2 453.8 416 458.6 421.8C463.4 427.6 468.7 435.3 472.1 443C475.5 450.7 478.6 465.9 478.9 468.1C479.2 470.4 477.1 462.3 474 456.5C470.9 450.7 465 439.8 460.5 433.4C456 427 451.8 421.7 447 417.9C442.2 414.1 434.1 412.9 431.5 410.6C428.9 408.4 429.6 404.8 431.5 404.4Z" fill="#c4c6c4"/>
<path d="M423.8 417.9C425.1 417.2 434.2 419.5 439.3 423.7C444.4 427.9 450.9 435.6 454.7 443C458.5 450.4 461.8 461.3 462.4 468.1C463 474.9 461.8 479.4 458.6 483.6C455.4 487.8 447 493.2 443.1 493.2C439.2 493.2 435.4 486.5 435.4 483.6C435.4 480.7 440.5 479.8 443.1 475.9C445.7 472 450.9 466.2 450.9 460.4C450.9 454.6 446.3 446.6 443.1 441.1C439.9 435.6 434.7 431.5 431.5 427.6C428.3 423.7 422.5 418.5 423.8 417.9Z" fill="#a9aba9"/>
<path d="M425.8 421.8C426.8 421.2 433.1 423.7 437.3 427.6C441.5 431.5 447.7 438.9 450.9 445C454.1 451.1 456.1 459.2 456.6 464.3C457.1 469.4 455.1 476.5 453.8 475.9C452.5 475.2 451 465.9 448.9 460.4C446.8 454.9 444.1 447.8 441.2 443C438.3 438.2 434.1 434.9 431.5 431.4C428.9 427.9 424.8 422.4 425.8 421.8Z" fill="#d0d2d0"/>
<path d="M435.4 493.2C437.3 493.9 442.5 497.5 447 497.5C451.5 497.5 458.2 495.2 462.4 493.2C466.6 491.2 470.5 486.8 472.1 485.5" fill="none" stroke="#3a3a3a" stroke-width="1.6" stroke-linecap="round"/>
<path d="M468.2 468.1C469.2 464.9 472.4 463 474 464.3C475.6 465.6 478.2 472 477.9 475.9C477.6 479.8 473.7 486.1 472.1 487.4C470.5 488.7 468.9 486.8 468.2 483.6C467.5 480.4 467.2 471.3 468.2 468.1Z" fill="#4a4a4a"/>
<polygon points="420,423.3 354.3,460 344.7,471 344.7,483.6 350.4,499 364,515.4 379.4,525.7 391,522.6 450.9,484.5 454.7,468.1 447,445 431.5,427.6" fill="#9a9b9a"/>
<polygon points="420,423.3 354.3,460 346.6,469.1 364,473.9 431.5,435.7" fill="#5c5b5c"/>
<polygon points="431.5,435.7 364,473.9 367.8,478.2 435.4,439.6" fill="#8a8b8a"/>
<polygon points="437.3,441.1 373.6,477.8 379.4,485.5 441.2,449.8" fill="#cfd0cf"/>
<polygon points="441.2,449.8 379.4,485.5 385.2,495.2 447,458.5" fill="#b5b6b5"/>
<polygon points="450.9,472 392.9,506.7 394.9,520.3 391,522.6 450.9,484.5" fill="#5f5e5f"/>
<path d="M344.7 472C346 468.8 348.9 465.9 352.4 464.3C355.9 462.7 361.1 461 365.9 462.3C370.7 463.6 376.8 467.2 381.3 472C385.8 476.8 390.2 484.9 392.9 491.3C395.5 497.7 397.5 505.4 397.2 510.6C396.9 515.8 394 520.1 391 522.6C388 525.1 383.9 526.9 379.4 525.7C374.9 524.5 368.8 519.9 364 515.4C359.2 510.9 353.6 504.3 350.4 499C347.2 493.7 345.6 488.1 344.7 483.6C343.8 479.1 343.4 475.2 344.7 472Z" fill="#6c6b6c"/>
<path d="M348.5 473.9C349.9 471.3 353 468.9 356.2 468.1C359.4 467.3 363.8 467.2 367.8 469.1C371.8 471 376.7 475 380.4 479.7C384.1 484.4 387.9 491.6 390 497.1C392.1 502.6 393 508.6 392.9 512.5C392.8 516.4 391.4 518.7 389.1 520.3C386.9 521.9 383.3 523.5 379.4 522.2C375.5 520.9 370.2 516.7 365.9 512.5C361.5 508.3 356.3 501.9 353.3 497.1C350.3 492.3 348.9 487.5 348.1 483.6C347.3 479.7 347.1 476.5 348.5 473.9Z" fill="#b9bbb9"/>
<path d="M350.4 483.6C351 480.7 356.2 475.9 360.1 475.9C364 475.9 369.7 479.8 373.6 483.6C377.5 487.5 383.9 497.1 383.3 499C382.7 500.9 374.3 496.2 369.8 495.2C365.3 494.2 359.4 495.1 356.2 493.2C353 491.3 349.8 486.5 350.4 483.6Z" fill="#8e8f8e"/>
<path d="M354.3 499C355.3 495.5 368.1 490 373.6 491.3C379.1 492.6 385.8 501.9 387.1 506.7C388.4 511.5 384.5 519.3 381.3 520.3C378.1 521.3 372.3 516 367.8 512.5C363.3 508.9 353.3 502.5 354.3 499Z" fill="#d4d6d4"/>
<path d="M365.9 462.3C368.5 463.9 376.8 467.2 381.3 472C385.8 476.8 390.2 484.9 392.9 491.3C395.5 497.7 397.2 505.6 397.2 510.6C397.2 515.6 393.6 519.4 392.9 521.2" fill="none" stroke="#c9cbc9" stroke-width="1.5" stroke-linecap="round"/>
<path d="M396.8 417.9C398.2 414.5 404.2 407.8 408.4 405.4C412.6 403 420.6 402.8 421.9 403.4C423.2 404 419 407.1 416.1 409.2C413.2 411.3 407.2 413.2 404.5 416C401.8 418.8 401 425.4 399.7 425.7C398.4 426 395.4 421.3 396.8 417.9Z" fill="#333233"/>
<polygon points="394.9,427.6 412.2,420.8 416.1,424.7 398.7,432.4" fill="#333233"/>
<polygon points="364,456.5 376.5,450.8 376.5,459.4" fill="#c0c2c0"/>
<polygon points="346.6,470.1 356.2,465.2 358.2,468.1 349.5,473.9" fill="#2f2f2f"/>
<polygon points="379.4,518.3 392.9,512.5 398.7,514.5 385.2,523.2" fill="#2f2f2f"/>
<polygon points="443.1,483.6 450.9,479.7 452.8,485.5 435.4,495.2" fill="#2f2f2f"/>
<polygon points="378.6,392.1 382.9,388.2 387.9,393.2 383.7,397.5" fill="#bdbfbd"/>
<polygon points="374.8,423.9 379,420.1 384,425.1 379.8,429.3" fill="#bdbfbd"/>
<polygon points="484.8,432.6 489.1,428.7 494.1,433.8 489.9,438" fill="#bdbfbd"/>
<polygon points="496.4,471.2 500.7,467.4 505.7,472.4 501.4,476.6" fill="#bdbfbd"/>
<polygon points="443.3,517.6 447.6,513.7 452.6,518.7 448.3,523" fill="#bdbfbd"/>
<path d="M610.4 293C610.7 288.4 611.2 281.5 613.2 276.6C615.2 271.7 618 267.3 622.3 263.8C626.6 260.3 633 257 638.8 255.5C644.6 254 651 253.2 657.1 254.6C663.2 256 669.6 259.2 675.4 263.8C681.2 268.4 687.2 275.7 691.8 282.1C696.4 288.5 700.3 295.8 702.8 302.2C705.2 308.6 706.5 314.4 706.5 320.5C706.5 326.6 704.9 333.6 702.8 338.8C700.7 344 697.7 348 693.7 351.6C689.7 355.2 683.3 358.9 679 360.7C674.7 362.5 672.3 363.2 668 362.6C663.7 362 658.9 360.5 653.4 357.1C647.9 353.7 640.9 348.8 635.1 342.4C629.3 336 622.7 325.1 618.7 318.7C614.7 312.3 612.7 308.3 611.3 304C609.9 299.7 610.1 297.6 610.4 293Z" fill="#c6c8c6"/>
<polygon points="638.8,255.5 657.1,254.6 664.4,258.3 649.8,267.4 638.8,258.3" fill="#5a595a"/>
<polygon points="649.8,267.4 664.4,258.3 675.4,263.8 680.9,269.3 666.2,280.2" fill="#8e8f8e"/>
<polygon points="686.3,313.2 704.6,309.5 706.5,320.5 704.6,331.5 690.9,331.5" fill="#9a9b9a"/>
<polygon points="690.9,331.5 704.6,331.5 702.8,338.8 693.7,351.6 686.3,357.1 691.8,342.4" fill="#5f5e5f"/>
<path d="M610.4 293C610.7 288.4 611.2 281.5 613.2 276.6C615.2 271.7 618 266.9 622.3 263.8C626.6 260.8 633.6 257.4 638.8 258.3C644 259.2 647.9 264.4 653.4 269.3C658.9 274.2 666.5 280.9 671.7 287.6C676.9 294.3 681.1 302.2 684.5 309.5C687.9 316.8 690.6 324.8 691.8 331.5C693 338.2 693.9 344.9 691.8 349.8C689.7 354.7 683 358.6 679 360.7C675 362.8 672.3 363.2 668 362.6C663.7 362 658.9 360.5 653.4 357.1C647.9 353.7 640.9 348.8 635.1 342.4C629.3 336 622.7 325.1 618.7 318.7C614.7 312.3 612.7 308.3 611.3 304C609.9 299.7 610.1 297.6 610.4 293Z" fill="#5f5e5f"/>
<path d="M642.4 265.6C646.1 268.4 658 275.1 664.4 282.1C670.8 289.1 676.8 299.5 680.9 307.7C685 315.9 687.7 324.8 689.1 331.5C690.5 338.2 689.1 345.2 689.1 347.9" fill="none" stroke="#8b8c8b" stroke-width="1.0" stroke-linecap="round"/>
<path d="M615 294.9C615.9 298.5 617.1 309.8 620.5 316.8C623.9 323.8 630.2 331.5 635.1 337C640 342.5 647.3 347.7 649.8 349.8" fill="none" stroke="#8b8c8b" stroke-width="0.9" stroke-linecap="round"/>
<path d="M627.8 294.9C628.4 290.8 632.4 288.1 635.1 286.6C637.9 285.1 640.3 284.3 644.3 285.7C648.3 287.1 654.3 290.3 658.9 294.9C663.5 299.5 669.3 307.1 671.7 313.2C674.1 319.3 674.1 327.1 673.5 331.5C672.9 335.9 670.7 338.3 668 339.7C665.3 341.1 661.4 341.7 657.1 339.7C652.8 337.7 646.7 332.5 642.4 327.8C638.1 323.1 633.9 316.8 631.5 311.3C629.1 305.8 627.2 299 627.8 294.9Z" fill="#cdcfcd"/>
<path d="M627.8 294.9C628.4 290.8 632.4 288.1 635.1 286.6C637.9 285.1 642.6 284.3 644.3 285.7C646 287.1 646.7 292.4 645.2 294.9C643.7 297.3 637.4 297.7 635.1 300.4C632.8 303.1 632.7 312.2 631.5 311.3C630.3 310.4 627.2 299 627.8 294.9Z" fill="#6f706f"/>
<polygon points="631.5,311.3 635.1,300.4 645.2,294.9 649.8,311.3 639.7,318.7 635.1,318.7" fill="#c2c4c2"/>
<polygon points="635.1,318.7 639.7,318.7 649.8,311.3 657.1,324.1 647.9,331.5 642.4,327.8" fill="#8e8f8e"/>
<polygon points="647.9,331.5 657.1,324.1 668,331.5 668,339.7 657.1,339.7" fill="#bfc1bf"/>
<polygon points="657.1,338.8 668,335.1 672.6,331.5 668,340.2 658.9,341" fill="#4e4d4e"/>
<path d="M644.3 285.7C645.2 290 647.7 304.9 649.8 311.3C651.9 317.7 653.5 320.7 657.1 324.1C660.8 327.5 669.3 330.3 671.7 331.5" fill="none" stroke="#a9aba9" stroke-width="0.8" stroke-linecap="round"/>
<path d="M549.1 335.1C549.4 329.6 551.6 327.3 554.6 324.1C557.6 320.9 562.8 317.1 567.4 315.9C572 314.7 576.9 314.8 582.1 316.8C587.3 318.8 593.3 322.6 598.5 327.8C603.7 333 609.8 341.2 613.2 347.9C616.6 354.6 618.4 361.9 618.7 368C619 374.1 617.5 380.2 615 384.5C612.5 388.8 607.7 391.6 604 393.7C600.3 395.8 596.6 397.3 593 397.3C589.4 397.3 586.7 396.8 582.1 393.7C577.5 390.6 570.5 385.1 565.6 379C560.7 372.9 555.5 364.4 552.8 357.1C550 349.8 548.8 340.6 549.1 335.1Z" fill="#a4a5a4"/>
<path d="M567.4 315.9C570.8 315 576.9 314.8 582.1 316.8C587.3 318.8 596.7 325.4 598.5 327.8C600.3 330.2 596.6 332.4 593 331.5C589.4 330.6 581.8 323.8 576.6 322.3C571.4 320.8 563.5 323.4 562 322.3C560.5 321.2 564 316.8 567.4 315.9Z" fill="#77787a"/>
<polygon points="598.5,327.8 613.2,347.9 607.7,353.4 594.9,335.1" fill="#c9cbc9"/>
<polygon points="613.2,347.9 618.7,368 612.3,371.7 607.7,353.4" fill="#9c9d9c"/>
<polygon points="618.7,368 615,384.5 604,393.7 600.4,386.3 611.3,375.4" fill="#6b6b6b"/>
<polygon points="604,393.7 593,397.3 582.1,393.7 583.9,386.3 600.4,386.3" fill="#8c8d8c"/>
<path d="M549.1 335.1C549.4 329.6 552.5 326.2 554.6 324.1C556.8 322 561.4 319.9 562 322.3C562.6 324.8 558.3 333 558.3 338.8C558.3 344.6 562.9 354.1 562 357.1C561.1 360.2 554.9 360.8 552.8 357.1C550.6 353.4 548.8 340.6 549.1 335.1Z" fill="#b9bbb9"/>
<path d="M560.1 335.1C561.6 330.8 566.8 327.8 571.1 327.8C575.4 327.8 581.1 330.8 585.7 335.1C590.3 339.4 595.5 347.3 598.5 353.4C601.5 359.5 603.7 366.8 604 371.7C604.3 376.6 602.8 380.6 600.4 382.7C598 384.8 594 386.3 589.4 384.5C584.8 382.7 577.5 376.9 572.9 371.7C568.3 366.5 564.1 359.5 562 353.4C559.9 347.3 558.6 339.4 560.1 335.1Z" fill="#fdfefd"/>
<path d="M560.1 335.1C560.4 338.2 559.9 347.3 562 353.4C564.1 359.5 568.3 366.5 572.9 371.7C577.5 376.9 584.8 382.5 589.4 384.5C594 386.5 598.6 383.8 600.4 383.6" fill="none" stroke="#7d7e7d" stroke-width="1.6" stroke-linecap="round"/>
<path d="M563.8 338.8C564.2 341.5 564.4 349.7 566.5 355.2C568.6 360.7 572.5 367.3 576.6 371.7C580.7 376.1 588.8 380.1 591.2 381.8" fill="none" stroke="#c8cac8" stroke-width="1.2" stroke-linecap="round"/>
<path d="M557.4 337C557.7 340.4 556.8 350.4 559.2 357.1C561.6 363.8 567 371.9 572 377.2C577 382.5 584.4 387.3 589.4 389.1C594.4 390.9 600.1 388.4 602.2 388.2" fill="none" stroke="#d5d7d5" stroke-width="1.0" stroke-linecap="round"/>
<path d="M397.7 576.6C398.2 573.6 398.6 573.2 400.9 572.7C403.1 572.2 408.8 572.5 411.2 573.4C413.6 574.3 414.4 575.6 415.1 577.9C415.9 580.1 415.9 584.3 415.7 586.9C415.5 589.5 414.8 591.1 413.8 593.3C412.8 595.4 411.6 597.9 409.9 599.8C408.2 601.7 405.5 604 403.5 604.9C401.5 605.8 399.3 605.3 397.7 604.9C396.1 604.5 394.7 604.1 393.8 602.4C392.9 600.7 391.9 596.5 392.5 594.6C393.1 592.7 396.8 593.8 397.7 590.8C398.6 587.8 397.2 579.6 397.7 576.6Z" fill="#a4a6a4"/>
<path d="M408.7 575.3C409 574.8 412.2 575.3 413.2 577.2C414.1 579.1 414.5 584.2 414.4 586.9C414.3 589.6 413.1 592.6 412.5 593.3C411.9 593.9 410.8 592.9 410.6 590.8C410.4 588.7 411.5 583.1 411.2 580.5C410.9 577.9 408.4 575.8 408.7 575.3Z" fill="#cdcfcd"/>
<path d="M394.5 592.7C395.6 591 398.5 591.4 400.9 591.4C403.3 591.4 407.2 591.4 408.7 592.7C410.2 594 410.8 597.2 409.9 599.1C409 601 405.5 603.4 403.5 604.3C401.5 605.2 399.2 604.7 397.7 604.3C396.2 603.9 395 603.6 394.5 601.7C394 599.8 393.4 594.4 394.5 592.7Z" fill="#989a98"/>
<path d="M399 596.6C400 595.6 405.3 595.3 406.7 595.9C408.1 596.5 408.4 599.4 407.4 600.4C406.4 601.4 402.3 602.3 400.9 601.7C399.5 601.1 398 597.6 399 596.6Z" fill="#7d7f7d"/>
<path d="M379 589.5C378.9 587.6 379 586.5 380.3 585.6C381.6 584.7 384.3 584 386.7 584.1C389.1 584.2 392.7 585.2 394.5 586.3C396.3 587.4 397.5 589.4 397.3 590.5C397.1 591.6 394.2 591.5 393.2 592.7C392.2 593.9 391.6 596.1 391.3 597.9C391 599.7 392.4 603 391.6 603.7C390.8 604.5 388.5 603.5 386.7 602.4C384.9 601.3 382.3 599.4 381 597.2C379.7 595.1 379.1 591.4 379 589.5Z" fill="#b3b5b3"/>
<path d="M379 589.5C378.9 590.6 379.7 595.1 381 597.2C382.3 599.4 384.9 601.3 386.7 602.4C388.5 603.5 391.2 604.1 391.6 603.7C392 603.3 390.5 601.2 389.3 599.8C388.1 598.4 385.5 596.8 384.2 595.3C382.9 593.8 382.5 591.8 381.6 590.8C380.7 589.8 379.1 588.4 379 589.5Z" fill="#8a8c8a"/>
<polygon points="385.5,601.1 391.6,595.9 397.7,603.7 400.9,608.2 394.5,608.2 388,603" fill="#a9aba9"/>
<polygon points="388,602.4 394.5,607.5 397.7,629.4 402.2,648.7 404.8,668.1 399.6,671.9 391.9,668.1 382.9,664.2 379,655.2 381.6,644.9 384.2,629.4 386.7,614" fill="#9b9d9b"/>
<path d="M379 655.2C379 656.9 380.8 662.1 382.9 664.2C385 666.4 389.1 666.8 391.9 668.1C394.7 669.4 399.8 672.8 399.6 671.9C399.4 671 393.4 665.9 390.6 662.9C387.8 659.9 384.8 655.2 382.9 653.9C381 652.6 379 653.5 379 655.2Z" fill="#6e706e"/>
<polygon points="382.9,597.2 388,602.4 389.3,609.4 386.5,608.2" fill="#777977"/>
<polygon points="394.5,607.5 400.3,608.2 403.8,632 407.6,647.5 408.7,668.1 404.8,668.1 402.2,648.7 397.7,629.4" fill="#d9dbd9"/>
<polygon points="400.3,608.2 403.5,604.9 409.9,599.8 413.8,616.5 416.4,625.6 409.9,632 405,637.2 403.8,632" fill="#b1b3b1"/>
<polygon points="405,608.2 409.3,603.7 413.2,617.8 414.4,624.9 409.9,626.8 407.4,619.1" fill="#c9cbc9"/>
<polygon points="408.7,634.6 415.1,632 424.1,637.2 430.6,644.9 437,655.2 434.4,662.9 430.6,666.8 424.1,662.9 413.8,655.2 408.7,647.5 405,639.7" fill="#a8aaa8"/>
<polygon points="409.9,635.2 415.1,632.6 424.1,637.8 428.2,642.6 421.5,643.9 413.8,641.3" fill="#cfd1cf"/>
<path d="M408.7 648.7C409.1 647.4 411.2 646.6 413.8 647.5C416.4 648.4 421.5 651.7 424.1 653.9C426.7 656.1 429.1 658.8 429.5 660.6C429.9 662.4 428.4 664.5 426.7 664.5C424.9 664.5 421.6 662.1 419 660.6C416.4 659.1 412.9 657.4 411.2 655.4C409.5 653.4 408.3 650 408.7 648.7Z" fill="#4a4a4a"/>
<ellipse cx="418.7" cy="657.2" rx="3.6" ry="1.3" fill="#f2f4f2" transform="rotate(30 418.7 657.2)"/>
<polygon points="407.4,668.1 413.8,664.2 424.1,668.1 426.7,673.2 421.5,678.4 413.8,677.1 408.7,674.5" fill="#abadab"/>
<polygon points="399.6,671.9 408.7,674.5 416.4,681 413.8,681.6 406.1,678.4" fill="#454545"/>
<path d="M411.5 601.7C412.1 604.4 413.5 612.8 415.1 617.8C416.7 622.8 419.9 629.6 420.9 632" fill="none" stroke="#7a7a7a" stroke-width="0.7" stroke-linecap="round"/>
<path d="M379 655.2C379.6 656.7 380.8 662.1 382.9 664.2C385 666.4 389.1 666.8 391.9 668.1C394.7 669.4 396.8 670.4 399.6 671.9C402.4 673.4 407.2 676.2 408.7 677.1" fill="none" stroke="#4e4e4e" stroke-width="0.9" stroke-linecap="round"/>
<path d="M450.6 610C451.1 609 452.2 607.7 453.8 607.6C455.4 607.5 458.3 608.4 460.1 609.2C461.9 610 463.9 611.1 464.6 612.3C465.3 613.5 465 615.4 464.1 616.3C463.2 617.2 461.1 617.9 459.4 617.9C457.7 617.9 455.3 617 453.8 616.3C452.3 615.6 451.1 614.9 450.6 613.9C450.1 612.9 450.1 611 450.6 610Z" fill="#6c6e6c"/>
<ellipse cx="460.9" cy="613.9" rx="3.2" ry="3.4" fill="#a2a4a2"/>
<ellipse cx="453.8" cy="611.5" rx="2.6" ry="3" fill="#8e908e"/>
<ellipse cx="479.2" cy="697.6" rx="16" ry="7.4" fill="#8d8f8d" stroke="#3a3a3a" stroke-width="2.8" transform="rotate(31 479.2 697.6)"/>
<ellipse cx="479.5" cy="700.3" rx="9" ry="2.6" fill="#f4f6f4" transform="rotate(25 479.5 700.3)"/>
<path d="M466.5 690C467.8 691.3 471.2 695.8 474.4 698C477.6 700.2 483.6 702.6 485.5 703.5" fill="none" stroke="#2c2c2c" stroke-width="1.6" stroke-linecap="round"/>
<polygon points="272.9,457.1 288.4,446.6 293,448 295.7,453.5 294.8,455.3 278.4,465.8 277,461.7" fill="#cbcdcb"/>
<polygon points="277.4,463.5 295,453 294.8,455.3 278.4,465.8" fill="#8c8e8c"/>
<path d="M272.9 457 L288.4 446.6" fill="none" stroke="#555" stroke-width="0.9" stroke-linecap="round"/>
<polygon points="266.9,457.6 269.7,456.7 276.5,461.7 277.4,468.1 274.7,473.6 269.7,475 272,469 270.6,461.7" fill="#b7b9b7"/>
<path d="M260.1 463.5C260.3 461.9 261.7 460.4 262.8 459.4C263.9 458.4 265.6 457.2 266.9 457.6C268.2 458 269.8 459.8 270.6 461.7C271.5 463.6 272.1 466.8 272 469C271.9 471.2 270.8 474.2 269.7 475C268.6 475.8 266.9 474.6 265.5 473.6C264.1 472.6 262.3 470.7 261.4 469C260.5 467.3 259.9 465.1 260.1 463.5Z" fill="#666566"/>
<path d="M314 426.2C314.8 426.1 317.1 425.4 318.6 425.9C320.1 426.4 321.9 427.4 323.2 429C324.5 430.6 326 433.3 326.2 435.2C326.4 437.1 325.5 439.3 324.5 440.5C323.5 441.7 321.7 442.4 320 442.3C318.3 442.2 315.4 440.1 314.5 439.6" fill="none" stroke="#a3a5a3" stroke-width="3.0" stroke-linecap="round"/>
<path d="M313.1 427C312.7 427.4 311.1 428.5 310.8 429.7C310.5 430.9 311.1 433.5 311.1 434.3" fill="none" stroke="#7a7c7a" stroke-width="3.0" stroke-linecap="round"/>
<path d="M314 428.3C314.9 428.5 317.7 428.4 319.1 429.5C320.5 430.6 322.1 433.1 322.3 434.7C322.5 436.3 321.5 438.6 320.4 439.3C319.2 440 316.2 439.1 315.4 439" fill="none" stroke="#5e605e" stroke-width="1.6" stroke-linecap="round"/>
<polygon points="362.7,745 371.6,749 354.8,779.2 344.9,774.3" fill="#e4e6e4"/>
<polygon points="368.7,747.5 371.6,749 354.8,779.2 352,777.8" fill="#b3b5b3"/>
<path d="M362.7 745 L344.9 774.3" fill="none" stroke="#8a8a8a" stroke-width="0.9" stroke-linecap="round"/>
<path d="M362.7 745 L371.6 749" fill="none" stroke="#8a8a8a" stroke-width="0.7" stroke-linecap="round"/>
<polygon points="337.9,779.2 340.9,773.3 345.9,774.3 356.8,782.2 353.8,787.7 348.8,787.2" fill="#dfe1df"/>
<polygon points="337.9,779.2 340.9,773.3 346.4,774.5 344.9,780.4" fill="#8c8e8c"/>
<polygon points="337.9,779.2 344.9,780.4 349.3,783.2 348.8,787.2" fill="#4a4a4a"/>
<path d="M349.3 781.2 L349.8 787.2" fill="none" stroke="#444" stroke-width="0.8" stroke-linecap="round"/>
<path d="M356.8 782.2C356.3 783.1 355.1 786.9 353.8 787.7C352.5 788.5 349.6 787.3 348.8 787.2" fill="none" stroke="#666" stroke-width="0.8" stroke-linecap="round"/>
<polygon points="378.1,708.4 380.5,704.9 397.9,715.3 395.4,718.8" fill="#9a9c9a"/>
<polygon points="383.5,709.9 385.5,707.1 393.4,711.8 391.4,714.8" fill="#f1f3f1"/>
<polygon points="378.1,708.4 380.5,704.9 383,706.4 380.5,709.9" fill="#444344"/>
<path d="M378.1 708.4C381 710.1 392.1 717.6 395.4 718.8C398.7 719.9 397.5 715.9 397.9 715.3" fill="none" stroke="#555" stroke-width="0.8" stroke-linecap="round"/>
<g fill="none" stroke="rgba(50,50,50,0.42)" stroke-width="3.3" stroke-linejoin="round">
<path d="M290.5 384 L290.5 302 Q290.5 296 296 295 A690 690 0 0 1 690 295 Q695.5 296 695.5 302 L695.5 384"/>
<path d="M290.5 383 L291 388C288.1 391.4 278 401.9 273.3 408.5C268.6 415.1 265.4 420.5 262.6 427.6C259.8 434.8 257.9 443.5 256.7 451.4C255.5 459.3 255.2 467.4 255.5 475C255.8 482.6 256.8 490 258.5 497C260.2 504 262.1 510.2 265.5 517C268.9 523.8 273.2 530.8 279 538C284.8 545.2 293.5 553.2 300 560.5C306.5 567.8 311.2 572.6 318 582C324.8 591.4 330.2 603 340.7 617C351.2 631 365.4 650.4 381 666C396.6 681.6 415.3 698.2 434 710.7C452.7 723.2 483.2 736.1 493 741.2"/>
<path d="M695.5 383 L695 388C698 391.4 708 401.9 712.7 408.5C717.4 415.1 720.6 420.5 723.4 427.6C726.2 434.8 728.1 443.5 729.3 451.4C730.5 459.3 730.8 467.4 730.5 475C730.2 482.6 729.2 490 727.5 497C725.8 504 723.9 510.2 720.5 517C717.1 523.8 712.8 530.8 707 538C701.2 545.2 692.5 553.2 686 560.5C679.5 567.8 674.8 572.6 668 582C661.2 591.4 655.8 603 645.3 617C634.8 631 620.5 650.4 605 666C589.5 681.6 570.7 698.2 552 710.7C533.3 723.2 502.8 736.1 493 741.2"/>
<path d="M298 386 H688"/>
<path d="M301 558.5 H685"/>
</g>
<g fill="none" stroke="rgba(70,70,70,0.62)" stroke-width="0.9">
<path d="M301 384 L301 312 Q301 306 307 305 A700 700 0 0 1 679 305 Q685 306 685 312 L685 384"/>
<path d="M309.1 560.5C312 563.1 319.8 567.5 326.5 575.9C333.2 584.2 338.8 596.9 349.1 610.7C359.4 624.5 373.3 643.4 388.4 658.6C403.6 673.8 422.4 690.1 439.9 702C457.3 713.8 484.1 725.1 493 729.7"/>
<path d="M676.9 560.5C674 563.1 666.2 567.5 659.5 575.9C652.8 584.2 647.2 596.9 636.9 610.7C626.6 624.5 612.7 643.4 597.6 658.6C582.4 673.8 563.6 690.1 546.1 702C528.7 713.8 501.9 725.1 493 729.7"/>
</g>
<mask id="lm" maskUnits="userSpaceOnUse" x="0" y="0" width="984" height="1009"><g transform="scale(1.08 1)" font-size="158" font-weight="bold" stroke-linejoin="miter" stroke-miterlimit="3"><text x="272.2 395.9 518.6" y="523.9" fill="#fff" stroke="#fff" stroke-width="12">ЭПФ</text><text x="272.2 395.9 518.6" y="523.9" fill="#000" stroke="#000" stroke-width="7.2">ЭПФ</text></g></mask>
<rect x="250" y="390" width="500" height="160" fill="rgba(50,50,50,0.40)" mask="url(#lm)"/>
<text x="353" y="356.6" textLength="99.2" font-size="36.4" font-weight="bold" fill="rgba(255,255,255,0.75)" stroke="rgba(95,95,95,0.75)" stroke-width="0.9" lengthAdjust="spacingAndGlyphs">ТЕХНИКА</text>
<text x="532.5" y="356.6" textLength="113" font-size="36.4" font-weight="bold" fill="rgba(255,255,255,0.75)" stroke="rgba(95,95,95,0.75)" stroke-width="0.9" lengthAdjust="spacingAndGlyphs">ЗАПЧАСТИ</text>
<path d="M504.3 342.3 L508 342.9 L508 345.7 L504.3 346.3 L503.1 349.2 L505.3 352.3 L503.3 354.3 L500.2 352.1 L497.3 353.3 L496.7 357 L493.9 357 L493.3 353.3 L490.4 352.1 L487.3 354.3 L485.3 352.3 L487.5 349.2 L486.3 346.3 L482.6 345.7 L482.6 342.9 L486.3 342.3 L487.5 339.4 L485.3 336.3 L487.3 334.3 L490.4 336.5 L493.3 335.3 L493.9 331.6 L496.7 331.6 L497.3 335.3 L500.2 336.5 L503.3 334.3 L505.3 336.3 L503.1 339.4Z" fill="rgba(255,255,255,0.7)" stroke="rgba(110,110,110,0.7)" stroke-width="0.9"/><circle cx="495.3" cy="344.3" r="4.2" fill="none" stroke="rgba(110,110,110,0.7)" stroke-width="0.9"/>
<clipPath id="shc"><path d="M309.1 560.5C312 563.1 319.8 567.5 326.5 575.9C333.2 584.2 338.8 596.9 349.1 610.7C359.4 624.5 373.3 643.4 388.4 658.6C403.6 673.8 422.4 690.1 439.9 702C457.3 713.8 484.1 725.1 493 729.7 L493 729.7 L546.1 702 L597.6 658.6 L636.9 610.7 L659.5 575.9 L676.9 560.5 Z"/></clipPath>
<g clip-path="url(#shc)">
<path d="M507.6 608.6 L491.9 616.4 L476.2 608.6 L476.2 593 L491.9 585.2 L507.6 593Z M488.6 620.9 V757.2 M495.2 620.9 V757.2 M467.6 610.5 L488.6 620.9 L488.6 637.3 L467.6 626.9 Z M516.2 610.5 L495.2 620.9 L495.2 637.3 L516.2 626.9 Z M467.6 629.4 L488.6 639.8 L488.6 656.2 L467.6 645.8 Z M516.2 629.4 L495.2 639.8 L495.2 656.2 L516.2 645.8 Z M467.6 648.3 L488.6 658.7 L488.6 675.1 L467.6 664.7 Z M516.2 648.3 L495.2 658.7 L495.2 675.1 L516.2 664.7 Z M467.6 667.2 L488.6 677.6 L488.6 694 L467.6 683.6 Z M516.2 667.2 L495.2 677.6 L495.2 694 L516.2 683.6 Z M467.6 686.1 L488.6 696.5 L488.6 712.9 L467.6 702.5 Z M516.2 686.1 L495.2 696.5 L495.2 712.9 L516.2 702.5 Z M467.6 705 L488.6 715.4 L488.6 731.8 L467.6 721.4 Z M516.2 705 L495.2 715.4 L495.2 731.8 L516.2 721.4 Z M467.6 723.9 L488.6 734.3 L488.6 750.7 L467.6 740.3 Z M516.2 723.9 L495.2 734.3 L495.2 750.7 L516.2 740.3 Z" fill="none" stroke="rgba(110,110,110,0.62)" stroke-width="0.9"/>
<path d="M433.1 641 L421 647 L408.9 641 L408.9 629 L421 623 L433.1 629Z M418.5 649.4 V743.4 M423.5 649.4 V743.4 M403.5 642.4 L418.5 649.4 L418.5 661.9 L403.5 654.9 Z M438.5 642.4 L423.5 649.4 L423.5 661.9 L438.5 654.9 Z M403.5 657.4 L418.5 664.4 L418.5 676.9 L403.5 669.9 Z M438.5 657.4 L423.5 664.4 L423.5 676.9 L438.5 669.9 Z M403.5 672.4 L418.5 679.4 L418.5 691.9 L403.5 684.9 Z M438.5 672.4 L423.5 679.4 L423.5 691.9 L438.5 684.9 Z M403.5 687.4 L418.5 694.4 L418.5 706.9 L403.5 699.9 Z M438.5 687.4 L423.5 694.4 L423.5 706.9 L438.5 699.9 Z M403.5 702.4 L418.5 709.4 L418.5 721.9 L403.5 714.9 Z M438.5 702.4 L423.5 709.4 L423.5 721.9 L438.5 714.9 Z M403.5 717.4 L418.5 724.4 L418.5 736.9 L403.5 729.9 Z M438.5 717.4 L423.5 724.4 L423.5 736.9 L438.5 729.9 Z" fill="none" stroke="rgba(110,110,110,0.62)" stroke-width="0.9" transform="rotate(-25 421 635)"/>
<path d="M574.6 641 L562.5 647 L550.4 641 L550.4 629 L562.5 623 L574.6 629Z M560 649.4 V743.4 M565 649.4 V743.4 M545 642.4 L560 649.4 L560 661.9 L545 654.9 Z M580 642.4 L565 649.4 L565 661.9 L580 654.9 Z M545 657.4 L560 664.4 L560 676.9 L545 669.9 Z M580 657.4 L565 664.4 L565 676.9 L580 669.9 Z M545 672.4 L560 679.4 L560 691.9 L545 684.9 Z M580 672.4 L565 679.4 L565 691.9 L580 684.9 Z M545 687.4 L560 694.4 L560 706.9 L545 699.9 Z M580 687.4 L565 694.4 L565 706.9 L580 699.9 Z M545 702.4 L560 709.4 L560 721.9 L545 714.9 Z M580 702.4 L565 709.4 L565 721.9 L580 714.9 Z M545 717.4 L560 724.4 L560 736.9 L545 729.9 Z M580 717.4 L565 724.4 L565 736.9 L580 729.9 Z" fill="none" stroke="rgba(110,110,110,0.62)" stroke-width="0.9" transform="rotate(25 562.5 635)"/>
</g>
<line x1="27" y1="491.2" x2="146.9" y2="573.4" stroke="#262626" stroke-width="1.0"/>
<line x1="131.3" y1="422" x2="229.6" y2="521.2" stroke="#262626" stroke-width="1.0"/>
<line x1="221.2" y1="365" x2="280.6" y2="457" stroke="#262626" stroke-width="1.0"/>
<line x1="301.4" y1="312" x2="318.9" y2="426.5" stroke="#262626" stroke-width="1.0"/>
<line x1="771" y1="706.7" x2="675" y2="344.5" stroke="#262626" stroke-width="1.0"/>
<line x1="729.3" y1="733.4" x2="603" y2="386" stroke="#262626" stroke-width="1.0"/>
<line x1="685.6" y1="758.3" x2="546.7" y2="461.6" stroke="#262626" stroke-width="1.0"/>
<line x1="640.4" y1="785" x2="483.8" y2="495.6" stroke="#262626" stroke-width="1.0"/>
<line x1="591.7" y1="817.3" x2="459" y2="614" stroke="#262626" stroke-width="1.0"/>
<line x1="535.5" y1="852.9" x2="486.8" y2="708.8" stroke="#262626" stroke-width="1.0"/>
<line x1="484.3" y1="888.5" x2="421" y2="678.6" stroke="#262626" stroke-width="1.0"/>
<line x1="431" y1="920.5" x2="391.8" y2="717.7" stroke="#262626" stroke-width="1.0"/>
<line x1="373" y1="961.4" x2="349.8" y2="787" stroke="#262626" stroke-width="1.0"/>
<g opacity="0.99">
<text x="22.5" y="487" font-size="29" text-anchor="middle" fill="#343434">1</text>
<text x="122.5" y="420.7" font-size="29" text-anchor="middle" fill="#343434">2</text>
<text x="215" y="362.5" font-size="29" text-anchor="middle" fill="#343434">3</text>
<text x="301" y="308" font-size="29" text-anchor="middle" fill="#343434">4</text>
<text x="778.7" y="731.6" font-size="29" text-anchor="middle" fill="#343434">5</text>
<text x="736.8" y="756.5" font-size="29" text-anchor="middle" fill="#343434">6</text>
<text x="695.2" y="787.8" font-size="29" text-anchor="middle" fill="#343434">7</text>
<text x="647.8" y="812.7" font-size="29" text-anchor="middle" fill="#343434">8</text>
<text x="599.5" y="842.2" font-size="29" text-anchor="middle" fill="#343434">9</text>
<text x="544.7" y="879.6" font-size="29" text-anchor="middle" fill="#343434">10</text>
<text x="490" y="913.4" font-size="29" text-anchor="middle" fill="#343434">11</text>
<text x="434.8" y="942.9" font-size="29" text-anchor="middle" fill="#343434">4</text>
<text x="375" y="984.5" font-size="29" text-anchor="middle" fill="#343434">12</text>
</g>
</svg>
</body></html>
